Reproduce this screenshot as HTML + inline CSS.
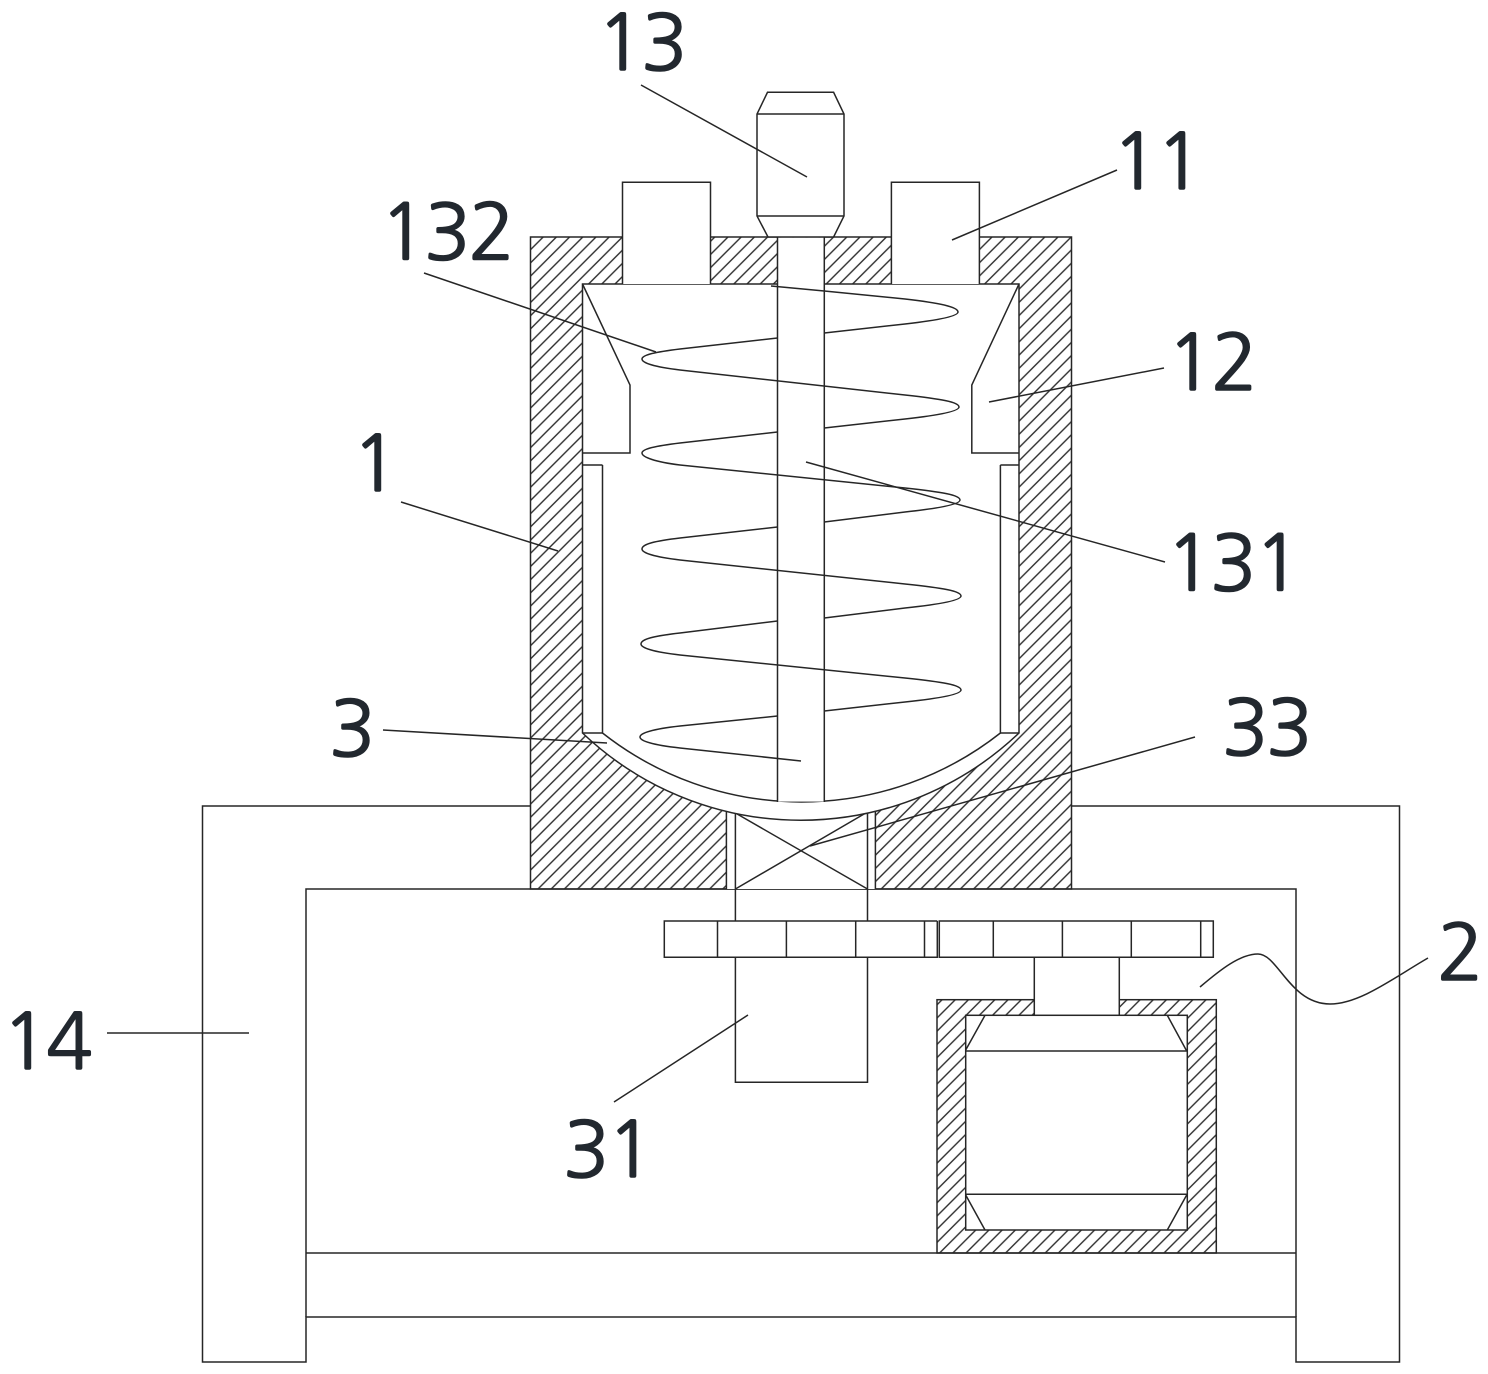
<!DOCTYPE html>
<html><head><meta charset="utf-8"><style>
html,body{margin:0;padding:0;background:#fff}
svg{display:block}
.l{fill:none;stroke:#262626;stroke-width:1.5}
.w{fill:#fff;stroke:#262626;stroke-width:1.5}
.n{fill:#fff;stroke:none}
text{font-family:"NanumGothic","Liberation Sans",sans-serif;font-size:77px;letter-spacing:-2.5px;fill:#22282f;stroke:#22282f;stroke-width:1.6}
</style></head><body>
<svg width="1488" height="1374" viewBox="0 0 1488 1374" xmlns="http://www.w3.org/2000/svg">
<defs>
<pattern id="h" patternUnits="userSpaceOnUse" width="13.2" height="13.2" patternTransform="translate(530 237)">
<path d="M-3.3,3.3 L3.3,-3.3 M0,13.2 L13.2,0 M9.9,16.5 L16.5,9.9" stroke="#2e2e2e" stroke-width="1.4" fill="none"/>
</pattern>
</defs>
<!-- base -->
<path class="l" d="M530.5,806 H202.5 V1362 H306 V1317 H1296 V1362 H1399.5 V806 H1071.5"/>
<path class="l" d="M306,1317 V889 H1296 V1317 M306,1253 H1296"/>
<!-- body hatch -->
<rect x="530.5" y="237" width="541" height="652" fill="url(#h)" stroke="#262626" stroke-width="1.5"/>
<!-- valve channel -->
<rect class="n" x="726.4" y="795" width="149" height="94"/>
<path class="l" d="M726.4,810 V889 M875.4,810 V889 M735.4,812 V889 M867.5,812 V889"/>
<path class="l" d="M735.4,813 L867.5,889 M735.4,889 L867.5,812"/>
<!-- cavity -->
<path class="w" d="M582.5,284 H1019 V733 A316.6,316.6 0 0 1 582.5,733 Z"/>
<path class="l" d="M602.5,465 V733 A321.5,321.5 0 0 0 1000.4,733 V465"/>
<path class="l" d="M582.5,465 H602.5 M582.5,733 H602.5 M1000.4,465 H1019 M1000.4,733 H1019"/>
<!-- deflectors -->
<path class="l" d="M582.5,284 L630,385 V453 H582.5"/>
<path class="l" d="M1019,284 L971.8,385 V453 H1019"/>
<!-- inlets -->
<rect class="n" x="622.5" y="182.3" width="88" height="101.7"/>
<rect class="n" x="891.4" y="182.3" width="88" height="101.7"/>
<path class="l" d="M622.5,284 V182.3 H710.5 V284 M891.4,284 V182.3 H979.4 V284"/>
<!-- motor -->
<path class="w" d="M768,237 L757,216 V114 L767.5,92.3 H833.6 L844,114 V216 L833.6,237"/>
<path class="l" d="M757,114 H844 M757,216 H844"/>
<!-- shaft -->
<rect class="n" x="777.5" y="237.6" width="46.8" height="564"/>
<path class="l" d="M777.5,237 V802 M824.3,237 V802 M768,237 H833.6"/>
<!-- helix -->
<path class="l" d="M771,286 L824.3,291 L905,299 C940,303 958,307 958,312 C958,316 940,320 905,324 L824.3,333"/>
<path class="l" d="M777.5,338 L680,349 C655,352 642,355 642,359 C642,363 655,367 680,370 L905,395 C941,399 959,402 959,407 C959,411 941,415 905,419 L824.3,428"/>
<path class="l" d="M777.5,432 L680,443 C655,446 642,449 642,453 C642,457 655,462 680,465 L905,488 C942,492 960,495 960,500 C960,504 942,508 905,512 L824.3,522"/>
<path class="l" d="M777.5,527 L680,538 C655,541 642,544 642,549 C642,553 655,557 680,560 L905,584 C943,588 961,591 961,596 C961,600 943,604 905,608 L824.3,618"/>
<path class="l" d="M777.5,621 L680,633 C654,636 641,639 641,644 C641,648 654,652 680,655 L905,678 C943,682 961,685 961,690 C961,694 943,698 905,702 L824.3,711"/>
<path class="l" d="M777.5,716 L680,726 C653,729 640,733 640,737 C640,741 653,745 680,748 L801,761"/>
<!-- gear -->
<path class="l" d="M735.4,889 V921 M867.5,889 V921"/>
<path class="l" d="M937.3,921 H664.3 V957.3 H937.3 V921 M939.3,921 H1213.3 V957.3 H939.3 Z"/>
<path class="l" d="M717.5,921 V957.3 M786.4,921 V957.3 M855.7,921 V957.3 M924.5,921 V957.3 M993.3,921 V957.3 M1062.4,921 V957.3 M1131.3,921 V957.3 M1200.7,921 V957.3"/>
<!-- block 31 -->
<path class="l" d="M735.4,957.3 V1082.3 H867.5 V957.3"/>
<!-- motor housing -->
<rect x="937" y="999.7" width="279.3" height="253.3" fill="url(#h)" stroke="#262626" stroke-width="1.5"/>
<rect class="n" x="1034.3" y="998" width="85" height="17.3"/>
<path class="l" d="M1034.3,957.3 V1015.3 M1119.3,957.3 V1015.3"/>
<rect class="w" x="965.7" y="1015.3" width="221.6" height="214.7"/>
<path class="l" d="M965.7,1051 H1187.3 M965.7,1194.3 H1187.3"/>
<path class="l" d="M965.7,1050 L985,1015.3 M1167.3,1015.3 L1186.7,1051 M965.7,1195 L985,1230 M1186.7,1195 L1167.3,1230"/>
<!-- leaders -->
<path class="l" d="M641,85 L807,177 M1117,170 L952,240 M424,273 L656,352 M1164,368 L989,402 M401,502 L558,551 M1165,562 L806,462 M383,730 L607,743 M1195,737 L810,846 M107,1033 H249 M614,1102 L748,1015"/>
<path class="l" d="M1200,987 C1220,970 1240,954 1258,954 C1278,954 1290,1004 1330,1004 C1360,1004 1395,977 1428,958"/>
<!-- labels -->
<text x="597" y="70">13</text>
<text x="1112" y="189">11</text>
<text x="380" y="259.5">132</text>
<text x="1167" y="390">12</text>
<text x="352" y="491">1</text>
<text x="1166" y="590.5">131</text>
<text x="329" y="756">3</text>
<text x="1222" y="755">33</text>
<text x="1437" y="980">2</text>
<text x="2" y="1069">14</text>
<text x="563" y="1177">31</text>
</svg>
</body></html>
